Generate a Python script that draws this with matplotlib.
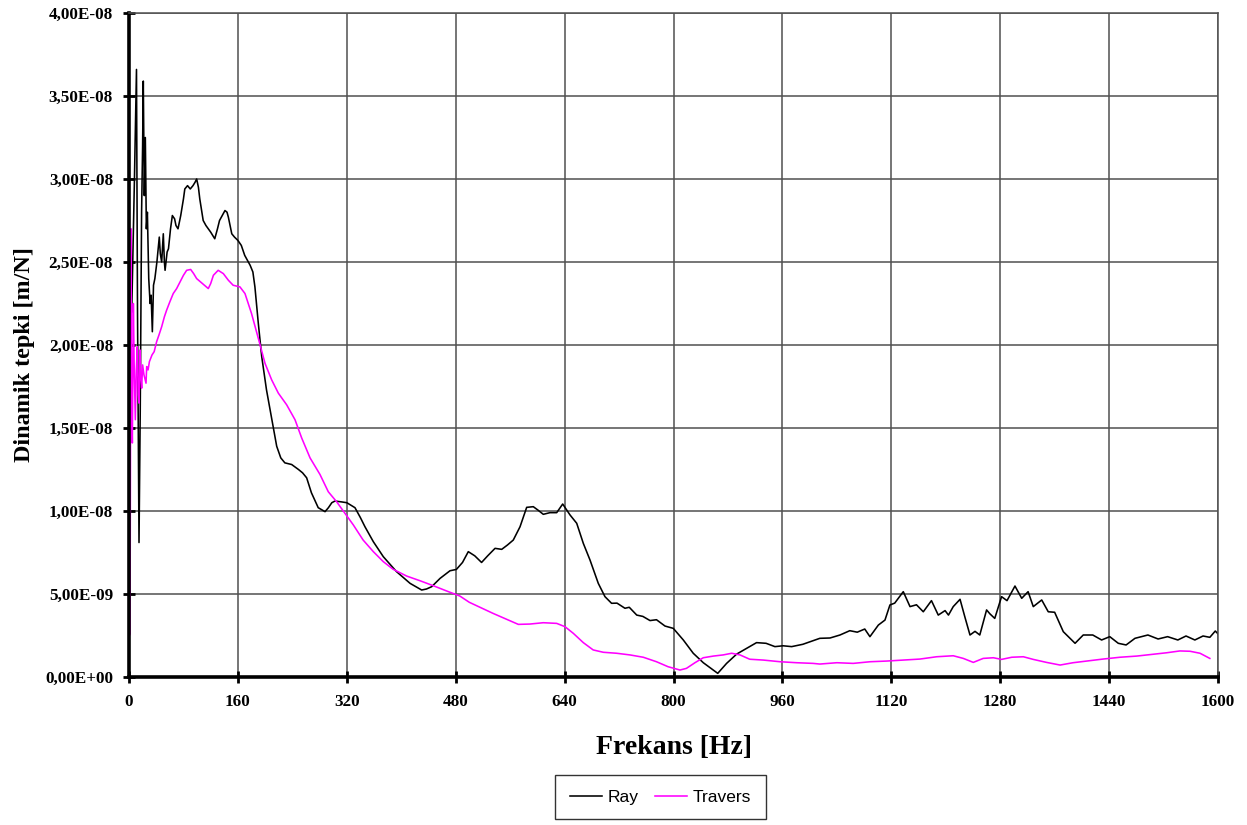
import matplotlib
matplotlib.use("Agg")
import matplotlib.pyplot as plt
from matplotlib.ticker import FuncFormatter, MultipleLocator

# Frequency response (receptance) of rail and sleeper, values in 1e-9 m/N
ray_freq = [4, 8, 11, 12.5, 14.7, 16.5, 18.5, 20, 21, 22.5, 24, 25.5, 27, 29, 31, 32.5, 34.3,
            36, 38, 41, 44.5, 46, 48, 50.4, 52, 53, 56, 58, 61, 63.7, 67, 69, 72, 76, 80, 82,
            86, 90, 94, 97, 99.4, 102, 104, 107, 109, 113, 116.5, 120, 126, 130, 133, 137,
            141, 144, 146, 151, 155, 160, 165, 170, 174, 178, 182, 185, 190, 195, 202, 210,
            217, 223, 229, 239, 249, 255, 261, 268, 278, 288, 293, 298, 302.6, 312, 320, 332,
            340, 346.7, 359, 373.6, 393, 413, 430, 437, 444.7, 457, 471.6, 481, 490, 498.5,
            508, 518, 527, 537.8, 547.6, 556, 564.6, 574.5, 584.3, 594, 601, 608.7, 618.5,
            628.4, 637.2, 648, 657.8, 667.5, 677.3, 689.5, 699.3, 709, 717, 728.7, 735, 746,
            755, 765.5, 775, 787.5, 799.7, 814.4, 829, 843.8, 858.5, 865, 878, 892.8, 907.5,
            922, 936, 949, 961, 973.6, 990, 1005, 1015, 1030, 1044.6, 1059, 1070, 1081,
            1088.6, 1101, 1110.7, 1118, 1125, 1137.6, 1147.5, 1157, 1167, 1179, 1189, 1199,
            1204, 1211, 1221, 1228, 1235.6, 1243, 1250, 1260, 1265, 1272, 1282, 1290, 1301.7,
            1311.6, 1321, 1328.6, 1341, 1350.6, 1360, 1372.7, 1390, 1402, 1416, 1429, 1441,
            1453.5, 1465, 1478, 1497, 1512, 1526, 1541, 1553, 1566, 1578, 1588, 1596, 1600]
ray_val = [22, 30, 36.6, 22, 8.1, 16, 28, 32, 35.9, 29, 32.5, 27, 28, 24, 22.5, 23, 20.8,
           23.6, 24, 25, 26.5, 25.5, 25, 26.7, 25, 24.5, 25.6, 25.8, 27, 27.8, 27.6, 27.2, 27,
           27.8, 28.8, 29.4, 29.6, 29.4, 29.6, 29.8, 30.0, 29.5, 28.8, 28, 27.5, 27.2, 27,
           26.8, 26.4, 27, 27.5, 27.8, 28.1, 28.0, 27.7, 26.7, 26.5, 26.3, 26, 25.4, 25.1,
           24.8, 24.4, 23.5, 21.3, 19.3, 17.3, 15.5, 13.9, 13.2, 12.9, 12.8, 12.5, 12.3,
           12.0, 11.1, 10.2, 9.96, 10.2, 10.5, 10.6, 10.55, 10.5, 10.2, 9.6, 9.05, 8.15, 7.25,
           6.35, 5.64, 5.24, 5.3, 5.44, 5.94, 6.4, 6.48, 6.9, 7.55, 7.3, 6.9, 7.3, 7.75, 7.69,
           7.95, 8.25, 9.05, 10.22, 10.26, 10.05, 9.8, 9.9, 9.9, 10.42, 9.76, 9.26, 8.05,
           7.05, 5.64, 4.84, 4.44, 4.45, 4.14, 4.2, 3.73, 3.65, 3.4, 3.45, 3.07, 2.93, 2.23,
           1.43, 0.86, 0.42, 0.22, 0.82, 1.38, 1.73, 2.07, 2.03, 1.83, 1.88, 1.83, 1.97, 2.19,
           2.33, 2.35, 2.53, 2.79, 2.7, 2.89, 2.43, 3.13, 3.43, 4.34, 4.45, 5.14, 4.24, 4.35,
           3.93, 4.6, 3.73, 4.0, 3.73, 4.24, 4.68, 3.63, 2.53, 2.75, 2.53, 4.04, 3.8, 3.53,
           4.84, 4.6, 5.48, 4.74, 5.14, 4.24, 4.64, 3.93, 3.9, 2.73, 2.03, 2.53, 2.53, 2.23,
           2.43, 2.03, 1.93, 2.33, 2.53, 2.29, 2.43, 2.23, 2.47, 2.23, 2.47, 2.39, 2.77, 2.6]

travers_freq = [0.5, 1.5, 2.2, 2.9, 3.6, 4.9, 5.6, 6.4, 7.5, 9.3, 10.8, 12.2, 13.5, 14.7, 16.2,
                17.5, 18.6, 20, 22, 25, 26, 28, 30, 33.8, 37, 40.6, 44, 48, 52, 55.3, 60, 65,
                70, 75, 80, 84.7, 90.6, 95, 99.4, 108, 116.5, 120, 124, 131, 138.6, 146, 153,
                163, 170.4, 180, 190, 199.8, 209.6, 219.4, 231.6, 243.9, 253.7, 266, 280.6,
                292.8, 305, 317.4, 329.6, 344, 359, 373.6, 388, 408, 427.5, 447, 466.8, 486,
                500, 515.7, 535, 555, 572, 589, 608.7, 628.4, 640.6, 652.8, 667.5, 682, 696.8,
                716.5, 736, 755.6, 775, 792, 809.5, 819, 831.5, 843.7, 858.5, 873, 885.5,
                897.7, 912, 932, 956.5, 981, 1005, 1015, 1040, 1064, 1089, 1113, 1137.6, 1162,
                1186.6, 1211, 1225.8, 1240.5, 1255, 1270, 1282, 1297, 1314, 1328.6, 1348, 1368,
                1387, 1407, 1431, 1456, 1480.5, 1505, 1524.6, 1544, 1559, 1573.6, 1588]
travers_val = [2.5, 2.6, 14, 27.0, 17, 14.1, 18, 22.5, 19, 15.5, 18.5, 19.9, 17, 16.5, 19.7,
               18, 17.4, 18.8, 18.2, 17.7, 18.7, 18.5, 19.0, 19.4, 19.6, 20.2, 20.6, 21.1,
               21.7, 22.1, 22.6, 23.1, 23.4, 23.8, 24.2, 24.5, 24.55, 24.3, 24.0, 23.7, 23.4,
               23.7, 24.2, 24.5, 24.3, 23.9, 23.6, 23.5, 23.1, 21.9, 20.4, 18.9, 17.9, 17.1,
               16.4, 15.5, 14.4, 13.2, 12.2, 11.16, 10.56, 9.86, 9.16, 8.25, 7.55, 6.95, 6.49,
               6.08, 5.8, 5.5, 5.18, 4.88, 4.5, 4.2, 3.83, 3.47, 3.17, 3.19, 3.27, 3.23, 3.03,
               2.63, 2.07, 1.63, 1.49, 1.43, 1.33, 1.19, 0.92, 0.62, 0.42, 0.52, 0.86, 1.16,
               1.26, 1.33, 1.43, 1.33, 1.07, 1.02, 0.92, 0.86, 0.82, 0.78, 0.86, 0.82, 0.92,
               0.96, 1.02, 1.08, 1.22, 1.28, 1.12, 0.88, 1.12, 1.16, 1.06, 1.19, 1.22, 1.06,
               0.88, 0.72, 0.86, 0.96, 1.08, 1.19, 1.26, 1.37, 1.46, 1.57, 1.55, 1.43, 1.12]

x_ticks = list(range(0, 1601, 160))
y_step = 5e-9

SERIF = ["Liberation Serif", "DejaVu Serif"]
SANS = ["Liberation Sans", "DejaVu Sans"]

fig = plt.figure(figsize=(12.47, 8.25), dpi=100)
ax = fig.add_axes([129 / 1247, 148 / 825, (1218 - 129) / 1247, (677 - 13) / 825])

ax.plot(ray_freq, [v * 1e-9 for v in ray_val], color="black", lw=1.15, label="Ray")
ax.plot(travers_freq, [v * 1e-9 for v in travers_val], color="#ff00ff", lw=1.15, label="Travers")

ax.set_xlim(0, 1600)
ax.set_ylim(0, 4e-8)
ax.set_xticks(x_ticks)
ax.yaxis.set_major_locator(MultipleLocator(y_step))
ax.yaxis.set_major_formatter(FuncFormatter(lambda v, _: f"{v:.2E}".replace(".", ",")))

ax.grid(True, color="#505050", lw=1.1)
ax.set_axisbelow(True)
for side in ("top", "right"):
    ax.spines[side].set_color("#505050")
    ax.spines[side].set_linewidth(1.1)
for side in ("left", "bottom"):
    ax.spines[side].set_color("black")
    ax.spines[side].set_linewidth(2.6)

ax.tick_params(axis="both", direction="inout", length=8, width=2, color="black")
for lab in ax.get_xticklabels() + ax.get_yticklabels():
    lab.set_family(SERIF)
    lab.set_fontweight("bold")
    lab.set_fontsize(12.3)
ax.tick_params(axis="x", pad=8)
ax.tick_params(axis="y", pad=7.5)

ax.set_xlabel("Frekans [Hz]", family=SERIF, fontweight="bold", fontsize=20, labelpad=18)
ax.set_ylabel("Dinamik tepki [m/N]", family=SERIF, fontweight="bold", fontsize=17.4)
ax.yaxis.set_label_coords(-0.086, 0.485)

leg = fig.legend(loc="center", bbox_to_anchor=(660.5 / 1247, (825 - 797) / 825), ncol=2,
                 prop={"family": SANS, "size": 12.5}, frameon=True, fancybox=False,
                 edgecolor="black", handlelength=1.85, columnspacing=0.95,
                 borderpad=0.85, handletextpad=0.3)
leg.get_frame().set_linewidth(1.0)

fig.savefig("out.png", dpi=100, facecolor="white")
